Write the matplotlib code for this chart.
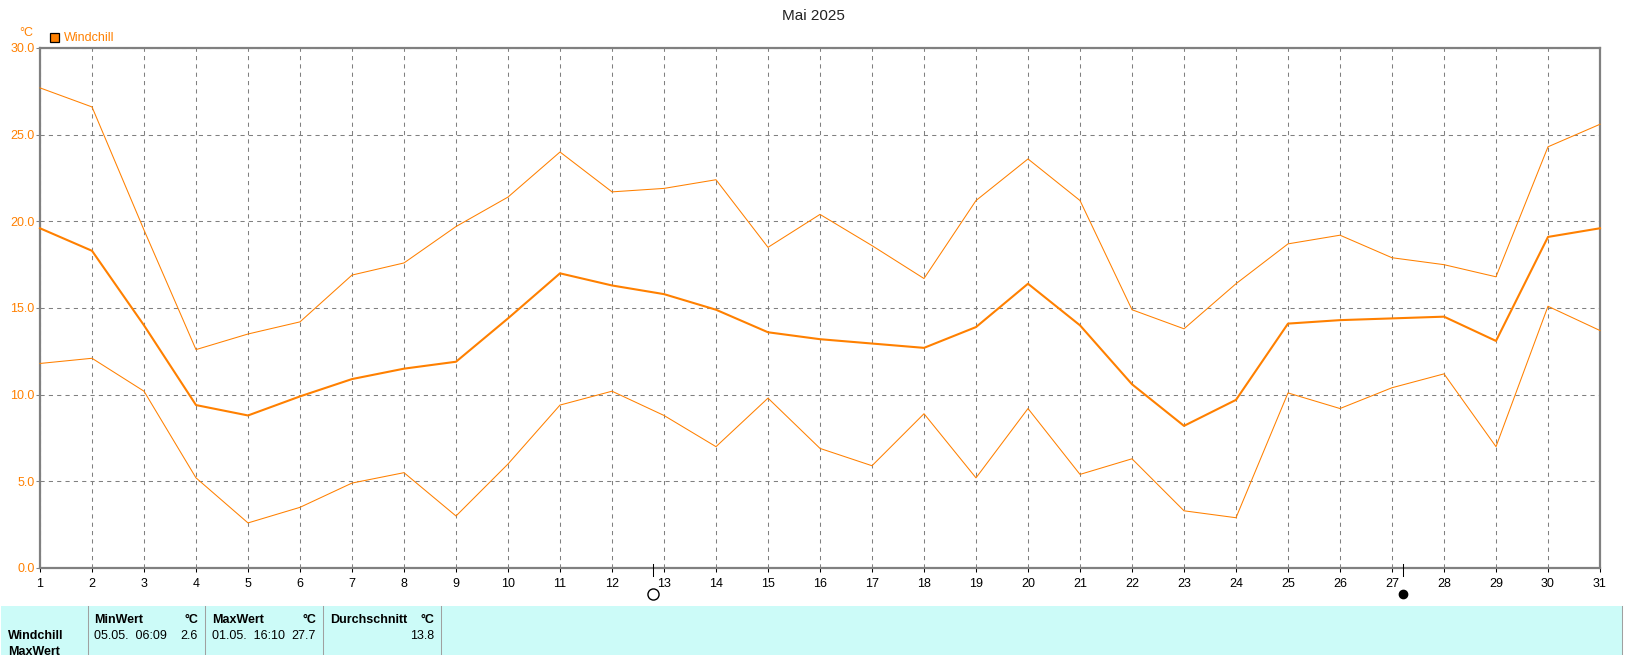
import matplotlib
matplotlib.use('Agg')
import matplotlib.pyplot as plt
from matplotlib.patches import Rectangle

plt.rcParams['font.family'] = ['Liberation Sans', 'DejaVu Sans']

W, H = 1631, 655
ORANGE = '#ff8000'
GRAY = '#808080'

days = list(range(1, 32))
y_ticks = [0, 5, 10, 15, 20, 25, 30]

wind_max = [27.7, 26.6, 19.5, 12.6, 13.5, 14.2, 16.9, 17.6, 19.7, 21.4, 24.0, 21.7, 21.9, 22.4, 18.5, 20.4,
            18.6, 16.7, 21.2, 23.6, 21.2, 14.9, 13.8, 16.4, 18.7, 19.2, 17.9, 17.5, 16.8, 24.3, 25.6]
wind_avg = [19.6, 18.3, 14.0, 9.4, 8.8, 9.9, 10.9, 11.5, 11.9, 14.4, 17.0, 16.3, 15.8, 14.9, 13.6, 13.2,
            12.95, 12.7, 13.9, 16.4, 14.0, 10.6, 8.2, 9.7, 14.1, 14.3, 14.4, 14.5, 13.1, 19.1, 19.6]
wind_min = [11.8, 12.1, 10.2, 5.2, 2.6, 3.5, 4.9, 5.5, 3.0, 6.0, 9.4, 10.2, 8.8, 7.0, 9.8, 6.9,
            5.9, 8.9, 5.2, 9.2, 5.4, 6.3, 3.3, 2.9, 10.1, 9.2, 10.4, 11.2, 7.0, 15.1, 13.7]

full_moon = 12.79
new_moon = 27.22


def px_text(x, y, s, **kw):
    # Position in Bildpixeln, y von oben
    kw.setdefault('fontsize', 9)
    kw.setdefault('va', 'center')
    fig.text(x / W, 1 - y / H, s, **kw)


fig = plt.figure(figsize=(W / 100, H / 100), dpi=100, facecolor='white')
ax = fig.add_axes([40 / W, 1 - 568 / H, 1560 / W, 520 / H])

ax.plot(days, wind_max, color=ORANGE, lw=0.75, clip_on=False, zorder=3)
ax.plot(days, wind_min, color=ORANGE, lw=0.75, clip_on=False, zorder=3)
ax.plot(days, wind_avg, color=ORANGE, lw=1.5, clip_on=False, zorder=3)

ax.set_xlim(1, 31)
ax.set_ylim(0, 30)
ax.set_xticks(days)
ax.set_yticks(y_ticks)
ax.set_yticklabels([f'{v:.1f}' for v in y_ticks], color=ORANGE, fontsize=9)
ax.tick_params(axis='x', length=3, width=0.75, color='black', pad=4, labelsize=9)
ax.tick_params(axis='y', length=3, width=0.75, color=GRAY, pad=1)
ax.grid(True, color=GRAY, lw=0.75, ls=(0, (4, 4)))
ax.set_axisbelow(True)
for spine in ax.spines.values():
    spine.set_color(GRAY)
    spine.set_linewidth(1.6)

px_text(813, 16, 'Mai 2025', ha='center', fontsize=11, color='#222222')
px_text(26, 33, '°C', ha='center', color=ORANGE)
px_text(64, 38, 'Windchill', color=ORANGE)
fig.add_artist(Rectangle((50 / W, 1 - 42 / H), 9 / W, 9 / H, transform=fig.transFigure,
                         facecolor=ORANGE, edgecolor='black', lw=0.9))

# Mondphasen
for x_moon, face in [(full_moon, 'white'), (new_moon, 'black')]:
    x_px = 40 + (x_moon - 1) * 52
    ax.plot([x_moon, x_moon], [-8 / 520 * 30, 4 / 520 * 30], color='black', lw=0.75, clip_on=False, zorder=4)
    fig.add_artist(plt.Line2D([x_px / W], [1 - 594 / H], marker='o', ms=8 if face == 'white' else 6,
                              mfc=face, mec='black', mew=1))

# Tabelle unten
fig.add_artist(Rectangle((1 / W, 0), 1621 / W, 49 / H, transform=fig.transFigure,
                         facecolor='#ccfbf8', edgecolor='none'))
for x_line in [88, 205, 323, 441, 1622]:
    fig.add_artist(plt.Line2D([x_line / W] * 2, [0, 49 / H], color='#a0a0a0', lw=0.75))

px_text(8, 636, 'Windchill', fontweight='bold')
px_text(8, 652, 'MaxWert', fontweight='bold')
px_text(94, 620, 'MinWert', fontweight='bold')
px_text(198, 620, '°C', ha='right', fontweight='bold')
px_text(94, 636, '05.05.  06:09')
px_text(198, 636, '2.6', ha='right')
px_text(212, 620, 'MaxWert', fontweight='bold')
px_text(316, 620, '°C', ha='right', fontweight='bold')
px_text(212, 636, '01.05.  16:10')
px_text(316, 636, '27.7', ha='right')
px_text(330, 620, 'Durchschnitt', fontweight='bold')
px_text(434, 620, '°C', ha='right', fontweight='bold')
px_text(434, 636, '13.8', ha='right')

fig.savefig('out.png', dpi=100)
